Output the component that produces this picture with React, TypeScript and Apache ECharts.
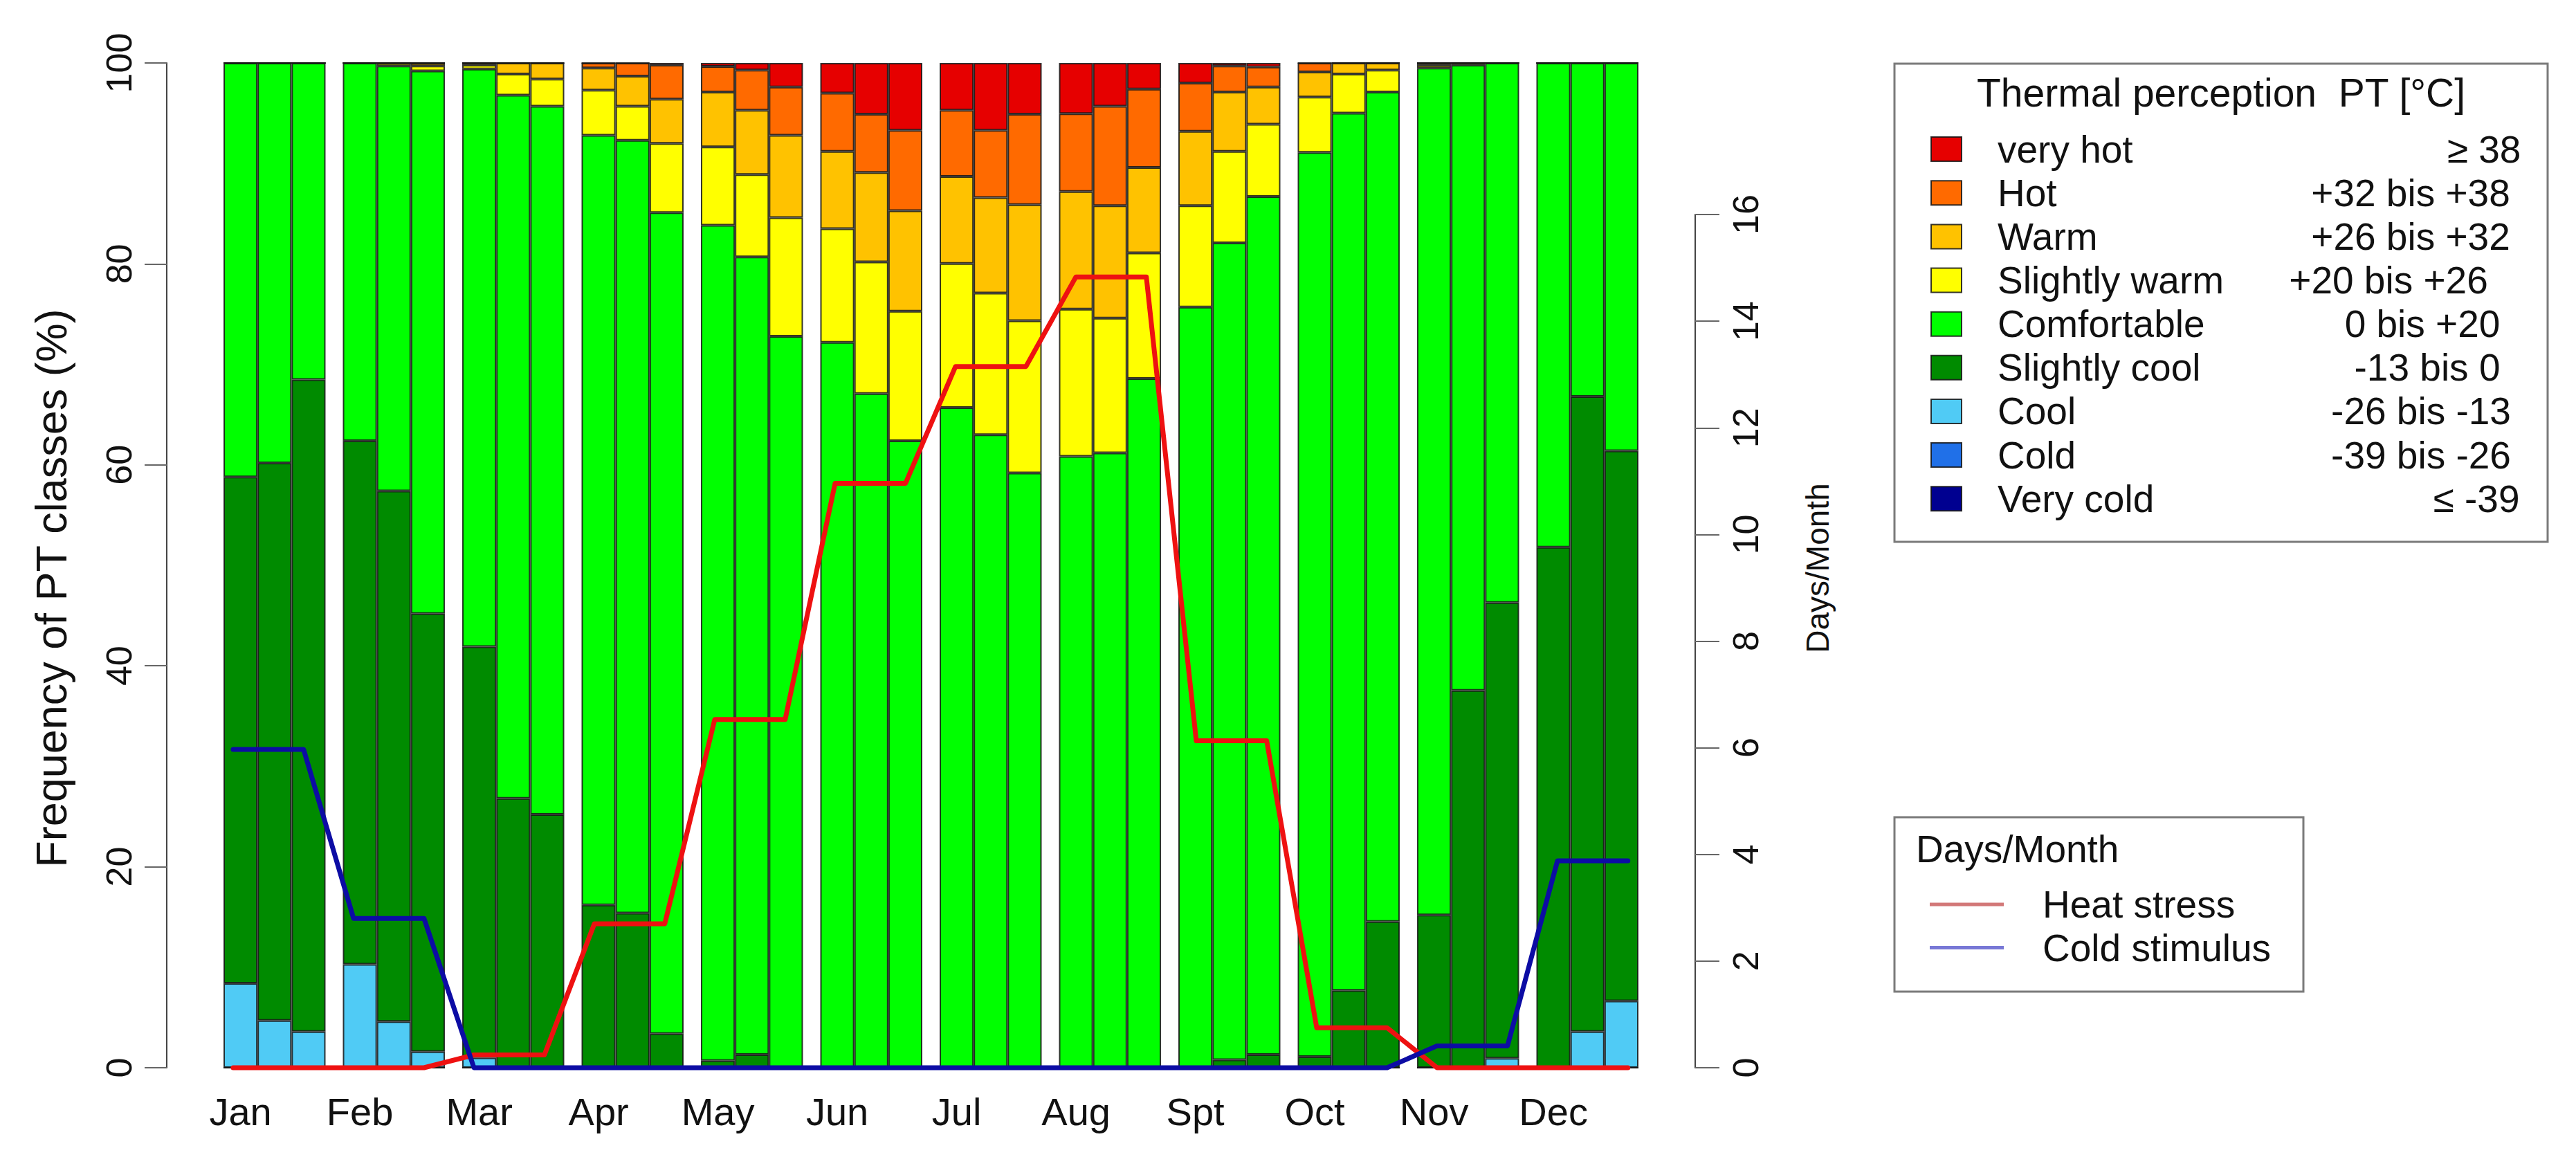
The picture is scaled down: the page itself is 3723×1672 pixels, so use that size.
import React, { useEffect, useRef } from 'react';
import * as echarts from 'echarts';

// ---------------- DATA ----------------
const MONTHS = ['Jan', 'Feb', 'Mar', 'Apr', 'May', 'Jun', 'Jul', 'Aug', 'Spt', 'Oct', 'Nov', 'Dec'];

// PT classes, stacked bottom -> top
const CLASS_NAMES = ['Very cold', 'Cold', 'Cool', 'Slightly cool', 'Comfortable', 'Slightly warm', 'Warm', 'Hot', 'very hot'];
const CLASS_RANGES = ['≤ -39', '-39 bis -26', '-26 bis -13', '-13 bis 0', '0 bis +20', '+20 bis +26', '+26 bis +32', '+32 bis +38', '≥ 38'];

// frequency (%) per dekad: Jan1, Jan2, Jan3, Feb1, ... Dec3
const veryCold = [0, 0, 0, 0, 0, 0, 0, 0, 0, 0, 0, 0, 0, 0, 0, 0, 0, 0, 0, 0, 0, 0, 0, 0, 0, 0, 0, 0, 0, 0, 0, 0, 0, 0, 0, 0];
const cold = [0, 0, 0, 0, 0, 0, 0, 0, 0, 0, 0, 0, 0, 0, 0, 0, 0, 0, 0, 0, 0, 0, 0, 0, 0, 0, 0, 0, 0, 0, 0, 0, 0, 0, 0, 0];
const cool = [8.4, 4.7, 3.6, 10.3, 4.6, 1.6, 1.0, 0, 0, 0, 0, 0, 0, 0, 0, 0, 0, 0, 0, 0, 0, 0, 0, 0, 0, 0, 0, 0, 0, 0, 0, 0, 0.95, 0, 3.6, 6.65];
const slightlyCool = [50.4, 55.5, 64.9, 52.1, 52.8, 43.6, 40.9, 26.8, 25.2, 16.2, 15.4, 3.4, 0.7, 1.3, 0, 0, 0, 0, 0, 0, 0, 0, 0, 0, 0, 0.8, 1.3, 1.1, 7.7, 14.55, 15.2, 37.55, 45.35, 51.8, 63.2, 54.75];
const comfortable = [41.2, 39.8, 31.5, 37.6, 42.3, 54.0, 57.5, 70.0, 70.5, 76.6, 76.9, 81.7, 83.15, 79.4, 72.8, 72.2, 67.1, 62.4, 65.7, 63.0, 59.2, 60.85, 61.2, 68.6, 75.7, 81.3, 85.4, 90.0, 87.3, 82.55, 84.3, 62.25, 53.7, 48.2, 33.2, 38.6];
const slightlyWarm = [0, 0, 0, 0, 0.3, 0.5, 0.4, 2.1, 2.7, 4.5, 3.4, 6.9, 7.8, 8.2, 11.8, 11.3, 13.1, 12.9, 14.35, 14.1, 15.15, 14.65, 13.4, 12.5, 10.1, 9.1, 7.2, 5.5, 3.9, 2.2, 0.3, 0.2, 0, 0, 0, 0];
const warm = [0, 0, 0, 0, 0, 0.3, 0.2, 1.1, 1.6, 2.2, 3.0, 4.4, 5.45, 6.4, 8.2, 7.7, 8.9, 10.0, 8.65, 9.5, 11.55, 11.7, 11.2, 8.5, 7.4, 5.9, 3.7, 2.5, 1.1, 0.7, 0.2, 0, 0, 0, 0, 0];
const hot = [0, 0, 0, 0, 0, 0, 0, 0, 0, 0.5, 1.3, 3.4, 2.55, 4.0, 4.8, 5.8, 5.8, 8.0, 6.6, 6.7, 9.0, 7.75, 9.9, 7.8, 4.8, 2.6, 2.0, 0.9, 0, 0, 0, 0, 0, 0, 0, 0];
const veryHot = [0, 0, 0, 0, 0, 0, 0, 0, 0, 0, 0, 0.2, 0.35, 0.7, 2.4, 3.0, 5.1, 6.7, 4.7, 6.7, 5.1, 5.05, 4.3, 2.6, 2.0, 0.3, 0.4, 0, 0, 0, 0, 0, 0, 0, 0, 0];
const CLASS_DATA = [veryCold, cold, cool, slightlyCool, comfortable, slightlyWarm, warm, hot, veryHot];

// days per month
const heatStress = [0, 0, 0.24, 2.7, 6.53, 10.96, 13.15, 14.83, 6.13, 0.75, 0, 0];
const coldStimulus = [5.97, 2.8, 0, 0, 0, 0, 0, 0, 0, 0, 0.41, 3.88];

const LEFT_TICKS = [0, 20, 40, 60, 80, 100];
const RIGHT_TICKS = [0, 2, 4, 6, 8, 10, 12, 14, 16];

// ---------------- STYLE / LAYOUT ----------------
const FONT = '"Liberation Sans", Arial, Helvetica, sans-serif';
const CLASS_COLORS = ['#000090', '#2070e8', '#50cbf5', '#008b00', '#00ff00', '#ffff00', '#ffc200', '#ff6a00', '#e60000'];
const HEAT_COLOR = '#ee1111';
const COLD_COLOR = '#0c0ca4';
const LINE_SPAN = 0.585; // second point of each month (in month units)
const RANGE_CENTER_X = [3579, 3499, 3499, 3508, 3501, 3452, 3484, 3484, 3590]; // bottom->top order

export default function App() {
  const ref = useRef<HTMLDivElement | null>(null);

  useEffect(() => {
    document.body.style.margin = '0';
    document.body.style.overflow = 'hidden';
    if (!ref.current) return;
    const chart = echarts.init(ref.current, null, { renderer: 'svg' });

    const series: any[] = [];
    for (let d = 0; d < 3; d++) {
      for (let c = 0; c < CLASS_NAMES.length; c++) {
        series.push({
          type: 'bar',
          name: CLASS_NAMES[c],
          stack: 'dekad' + d,
          xAxisIndex: 0,
          yAxisIndex: 0,
          barGap: '0%',
          barCategoryGap: '14.49%',
          data: MONTHS.map((_, m) => CLASS_DATA[c][m * 3 + d]),
          itemStyle: { color: CLASS_COLORS[c], borderColor: 'rgba(20,20,20,0.85)', borderWidth: 2 },
          emphasis: { disabled: true },
        });
      }
    }
    const lineData = (vals: number[]) =>
      vals.flatMap((v, m) => [[m, v], [m + LINE_SPAN, v]]);
    series.push({
      type: 'line',
      name: 'Heat stress',
      xAxisIndex: 1,
      yAxisIndex: 1,
      data: lineData(heatStress),
      symbol: 'none',
      showSymbol: false,
      clip: false,
      lineStyle: { color: HEAT_COLOR, width: 7, join: 'round', cap: 'round' },
      itemStyle: { color: HEAT_COLOR },
      z: 5,
    });
    series.push({
      type: 'line',
      name: 'Cold stimulus',
      xAxisIndex: 1,
      yAxisIndex: 1,
      data: lineData(coldStimulus),
      symbol: 'none',
      showSymbol: false,
      clip: false,
      lineStyle: { color: COLD_COLOR, width: 7, join: 'round', cap: 'round' },
      itemStyle: { color: COLD_COLOR },
      z: 5,
    });

    const rowY0 = 215.6;
    const rowStep = 63.14;
    const graphic: any[] = [
      {
        type: 'rect',
        shape: { x: 2738, y: 92, width: 944, height: 691 },
        style: { fill: 'none', stroke: '#7a7a7a', lineWidth: 3 },
      },
      {
        type: 'text',
        x: 3210,
        y: 134,
        style: { text: 'Thermal perception  PT [°C]', fontSize: 57, fontFamily: FONT, fill: '#111', align: 'center', verticalAlign: 'middle' },
      },
      ...CLASS_RANGES.map((r, c) => ({
        type: 'text',
        x: RANGE_CENTER_X[c],
        y: rowY0 + rowStep * (CLASS_RANGES.length - 1 - c),
        style: { text: r, fontSize: 55, fontFamily: FONT, fill: '#111', align: 'center', verticalAlign: 'middle' },
      })),
      {
        type: 'rect',
        shape: { x: 2738, y: 1181, width: 591, height: 252 },
        style: { fill: 'none', stroke: '#7a7a7a', lineWidth: 3 },
      },
      {
        type: 'text',
        x: 2769,
        y: 1227,
        style: { text: 'Days/Month', fontSize: 55, fontFamily: FONT, fill: '#111', align: 'left', verticalAlign: 'middle' },
      },
      {
        type: 'text',
        x: 74,
        y: 850,
        rotation: Math.PI / 2,
        style: { text: 'Frequency of PT classes (%)', fontSize: 63, fontFamily: FONT, fill: '#111', align: 'center', verticalAlign: 'middle' },
      },
      {
        type: 'text',
        x: 2627,
        y: 821,
        rotation: Math.PI / 2,
        style: { text: 'Days/Month', fontSize: 46, fontFamily: FONT, fill: '#111', align: 'center', verticalAlign: 'middle' },
      },
    ];

    const option: any = {
      animation: false,
      backgroundColor: '#ffffff',
      textStyle: { fontFamily: FONT },
      grid: [
        { left: 310.5, top: 91, width: 2070, height: 1452 },
        { left: 241, top: 310, width: 2209, height: 1233 },
      ],
      xAxis: [
        {
          type: 'category',
          gridIndex: 0,
          data: MONTHS,
          axisLine: { show: false, onZero: false },
          axisTick: { show: false },
          splitLine: { show: false },
          axisLabel: { interval: 0, fontSize: 56, color: '#111', margin: 35, padding: [0, 98.3, 0, 0] },
        },
        { type: 'value', gridIndex: 1, min: -0.5517, max: 12.144, show: false, splitLine: { show: false } },
      ],
      yAxis: [
        {
          type: 'value',
          gridIndex: 0,
          min: 0,
          max: 100,
          interval: 20,
          position: 'left',
          offset: 69.5,
          axisLine: { show: true, onZero: false, lineStyle: { color: '#444', width: 2 } },
          axisTick: { show: true, length: 32, customValues: LEFT_TICKS, lineStyle: { color: '#666', width: 2 } },
          axisLabel: { rotate: 90, fontSize: 52, margin: 43, color: '#111', customValues: LEFT_TICKS },
          splitLine: { show: false },
        },
        {
          type: 'value',
          gridIndex: 1,
          min: 0,
          max: 16,
          interval: 2,
          position: 'right',
          axisLine: { show: true, onZero: false, lineStyle: { color: '#444', width: 2 } },
          axisTick: { show: true, length: 35, customValues: RIGHT_TICKS, lineStyle: { color: '#666', width: 2 } },
          axisLabel: { rotate: 90, fontSize: 52, margin: 47, color: '#111', customValues: RIGHT_TICKS },
          splitLine: { show: false },
        },
      ],
      legend: [
        {
          orient: 'vertical',
          left: 2790,
          top: 187.6,
          padding: 0,
          itemWidth: 44,
          itemHeight: 35,
          itemGap: 7.14,
          icon: 'rect',
          selectedMode: false,
          data: CLASS_NAMES.slice().reverse(),
          textStyle: { fontSize: 55, lineHeight: 56, color: '#111', fontFamily: FONT, padding: [0, 0, 0, 47] },
        },
        {
          orient: 'vertical',
          left: 2789,
          top: 1279,
          padding: 0,
          itemWidth: 107,
          itemHeight: 5,
          itemGap: 6.5,
          icon: 'rect',
          selectedMode: false,
          data: [
            { name: 'Heat stress', itemStyle: { color: '#d27878', borderWidth: 0 } },
            { name: 'Cold stimulus', itemStyle: { color: '#7878d6', borderWidth: 0 } },
          ],
          textStyle: { fontSize: 55, lineHeight: 56, color: '#111', fontFamily: FONT, padding: [0, 0, 0, 51] },
        },
      ],
      graphic,
      series,
    };

    chart.setOption(option);
    return () => {
      chart.dispose();
    };
  }, []);

  return <div ref={ref} style={{ width: '3723px', height: '1672px' }} />;
}
